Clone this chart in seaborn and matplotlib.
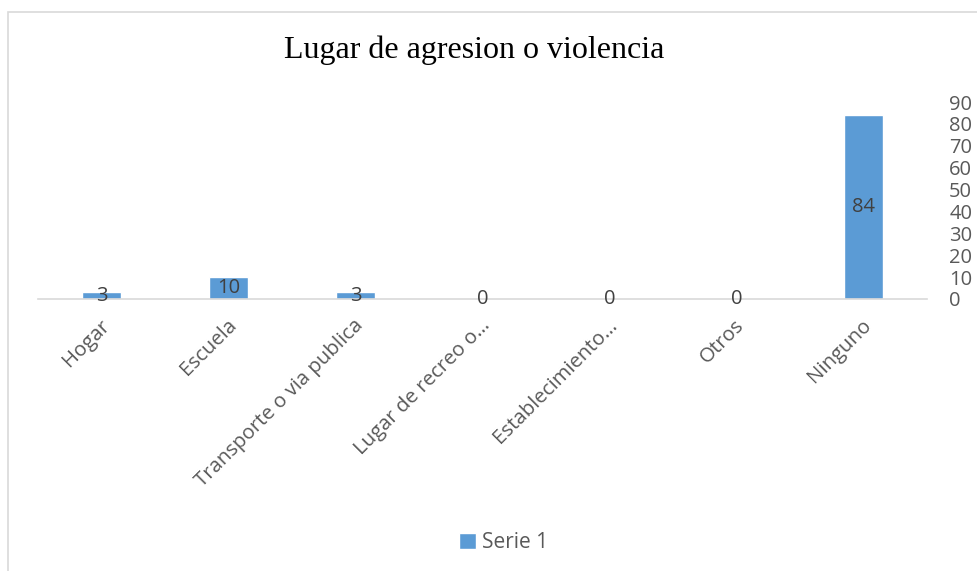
import matplotlib
matplotlib.use("Agg")
import matplotlib.pyplot as plt
import matplotlib.transforms as mtransforms
import seaborn as sns
import pandas as pd
from matplotlib.patches import Rectangle

# Data
categorias = ["Hogar", "Escuela", "Transporte o via publica", "Lugar de recreo o…",
              "Establecimiento…", "Otros", "Ninguno"]
valores = [3, 10, 3, 0, 0, 0, 84]
y_ticks = [0, 10, 20, 30, 40, 50, 60, 70, 80, 90]
serie = "Serie 1"

df = pd.DataFrame({"Lugar": categorias, "Valor": valores})

sns.set_style("white")
plt.rcParams["font.family"] = ["Open Sans", "DejaVu Sans"]

azul = "#5B9BD5"
gris_txt = "#595959"
gris_lin = "#D9D9D9"

fig = plt.figure(figsize=(9.78, 5.71), dpi=100)
ax = fig.add_axes([38 / 978, 1 - 299 / 571, (927 - 38) / 978, (299 - 102) / 571])

sns.barplot(data=df, x="Lugar", y="Valor", color=azul, width=0.31,
            saturation=1, ax=ax, label=serie)
if ax.get_legend() is not None:
    ax.get_legend().remove()

ax.set_xlim(-0.5, len(categorias) - 0.5)
ax.set_ylim(0, 90)
ax.set_yticks(y_ticks)
ax.yaxis.tick_right()
ax.tick_params(axis="y", length=0, pad=16, labelsize=14.5, labelcolor=gris_txt)

# category labels
ax.set_xticks(range(len(categorias)))
ax.set_xticklabels(categorias, rotation=45, ha="right", va="center",
                   rotation_mode="anchor", fontsize=14.7, color=gris_txt)
ax.tick_params(axis="x", which="major", length=0, pad=17)
shift = mtransforms.ScaledTranslation(5 / 100, 0, fig.dpi_scale_trans)
for lab in ax.get_xticklabels():
    lab.set_transform(lab.get_transform() + shift)
ax.set_xticks([i - 0.5 for i in range(len(categorias) + 1)], minor=True)
ax.tick_params(axis="x", which="minor", length=6, width=1.2, color=gris_lin, direction="out")
ax.set_xlabel("")
ax.set_ylabel("")

for s in ["top", "right", "left"]:
    ax.spines[s].set_visible(False)
ax.spines["bottom"].set_color(gris_lin)
ax.spines["bottom"].set_linewidth(1.2)

# data labels in the middle of each bar
for i, v in enumerate(valores):
    ax.text(i, v / 2, str(v), ha="center", va="center", fontsize=14.5, color="#404040")

fig.text(474 / 978, 1 - 50 / 571, "Lugar de agresion o violencia", ha="center", va="center",
         fontsize=23, family="Liberation Serif", color="black")

handles, labels = ax.get_legend_handles_labels()
leg = fig.legend(handles, labels, loc="center", bbox_to_anchor=(504 / 978, 1 - 543 / 571),
                 frameon=False, fontsize=15, handlelength=0.8, handleheight=0.8,
                 handletextpad=0.3)
for t in leg.get_texts():
    t.set_color(gris_txt)

fig.patches.append(Rectangle((8 / 978, -0.1), 1.2, 1 - 12 / 571 + 0.1, transform=fig.transFigure,
                             fill=False, edgecolor=gris_lin, linewidth=1.2))

fig.savefig("out.png", dpi=100)
